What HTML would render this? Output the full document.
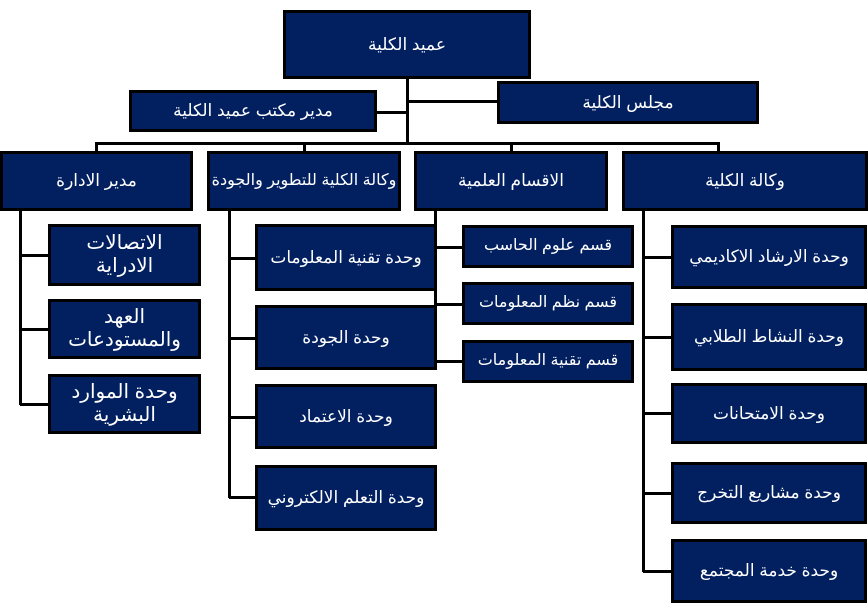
<!DOCTYPE html>
<html><head><meta charset="utf-8"><style>
body{margin:0;width:868px;height:613px;background:#fff;position:relative;overflow:hidden;font-family:"Liberation Sans","DejaVu Sans",sans-serif}
.b{position:absolute;box-sizing:border-box;background:#022060;border:3px solid #000;color:#fff;display:flex;align-items:center;justify-content:center;text-align:center;direction:rtl;font-size:17px;line-height:1.15}
.l{position:absolute;background:#000}
</style></head><body>
<div class="l" style="left:406px;top:78px;width:3px;height:66px"></div>
<div class="l" style="left:376px;top:111px;width:31px;height:3px"></div>
<div class="l" style="left:407px;top:100px;width:91px;height:3px"></div>
<div class="l" style="left:95px;top:142px;width:625px;height:3px"></div>
<div class="l" style="left:95px;top:142px;width:3px;height:10px"></div>
<div class="l" style="left:303px;top:142px;width:3px;height:10px"></div>
<div class="l" style="left:510px;top:142px;width:3px;height:10px"></div>
<div class="l" style="left:717px;top:142px;width:3px;height:10px"></div>
<div class="l" style="left:19px;top:208px;width:3px;height:197px"></div>
<div class="l" style="left:20px;top:254px;width:30px;height:3px"></div>
<div class="l" style="left:20px;top:328px;width:30px;height:3px"></div>
<div class="l" style="left:20px;top:403px;width:30px;height:3px"></div>
<div class="l" style="left:228px;top:208px;width:3px;height:290px"></div>
<div class="l" style="left:229px;top:257px;width:28px;height:3px"></div>
<div class="l" style="left:229px;top:337px;width:28px;height:3px"></div>
<div class="l" style="left:229px;top:416px;width:28px;height:3px"></div>
<div class="l" style="left:229px;top:496px;width:28px;height:3px"></div>
<div class="l" style="left:434px;top:208px;width:3px;height:152px"></div>
<div class="l" style="left:435px;top:246px;width:29px;height:3px"></div>
<div class="l" style="left:435px;top:303px;width:29px;height:3px"></div>
<div class="l" style="left:435px;top:360px;width:29px;height:3px"></div>
<div class="l" style="left:642px;top:208px;width:3px;height:364px"></div>
<div class="l" style="left:643px;top:256px;width:30px;height:3px"></div>
<div class="l" style="left:643px;top:336px;width:30px;height:3px"></div>
<div class="l" style="left:643px;top:412px;width:30px;height:3px"></div>
<div class="l" style="left:643px;top:492px;width:30px;height:3px"></div>
<div class="l" style="left:643px;top:570px;width:30px;height:3px"></div>
<div class="b" style="left:283px;top:10px;width:248px;height:69px">عميد الكلية</div>
<div class="b" style="left:129px;top:90px;width:248px;height:42px">مدير مكتب عميد الكلية</div>
<div class="b" style="left:497px;top:81px;width:262px;height:43px">مجلس الكلية</div>
<div class="b" style="left:0px;top:151px;width:193px;height:60px">مدير الادارة</div>
<div class="b" style="left:207px;top:151px;width:194px;height:60px;white-space:nowrap;font-size:16px">وكالة الكلية للتطوير والجودة</div>
<div class="b" style="left:414px;top:151px;width:194px;height:60px">الاقسام العلمية</div>
<div class="b" style="left:622px;top:151px;width:246px;height:60px">وكالة الكلية</div>
<div class="b" style="left:48px;top:224px;width:153px;height:62px;font-size:20px;padding:0 20px">الاتصالات الادراية</div>
<div class="b" style="left:48px;top:299px;width:153px;height:60px;font-size:20px;padding:0 15px">العهد والمستودعات</div>
<div class="b" style="left:48px;top:374px;width:153px;height:60px;font-size:20px;padding:0 15px">وحدة الموارد البشرية</div>
<div class="b" style="left:255px;top:224px;width:182px;height:67px">وحدة تقنية المعلومات</div>
<div class="b" style="left:255px;top:305px;width:182px;height:65px">وحدة الجودة</div>
<div class="b" style="left:255px;top:384px;width:182px;height:65px">وحدة الاعتماد</div>
<div class="b" style="left:255px;top:465px;width:182px;height:66px">وحدة التعلم الالكتروني</div>
<div class="b" style="left:462px;top:225px;width:172px;height:43px;font-size:16px">قسم علوم الحاسب</div>
<div class="b" style="left:462px;top:282px;width:172px;height:43px;font-size:16px">قسم نظم المعلومات</div>
<div class="b" style="left:462px;top:340px;width:172px;height:43px;font-size:16px">قسم تقنية المعلومات</div>
<div class="b" style="left:671px;top:225px;width:196px;height:64px">وحدة الارشاد الاكاديمي</div>
<div class="b" style="left:671px;top:303px;width:196px;height:68px">وحدة النشاط الطلابي</div>
<div class="b" style="left:671px;top:383px;width:196px;height:61px">وحدة الامتحانات</div>
<div class="b" style="left:671px;top:462px;width:196px;height:62px">وحدة مشاريع التخرج</div>
<div class="b" style="left:671px;top:539px;width:196px;height:64px">وحدة خدمة المجتمع</div>
</body></html>
